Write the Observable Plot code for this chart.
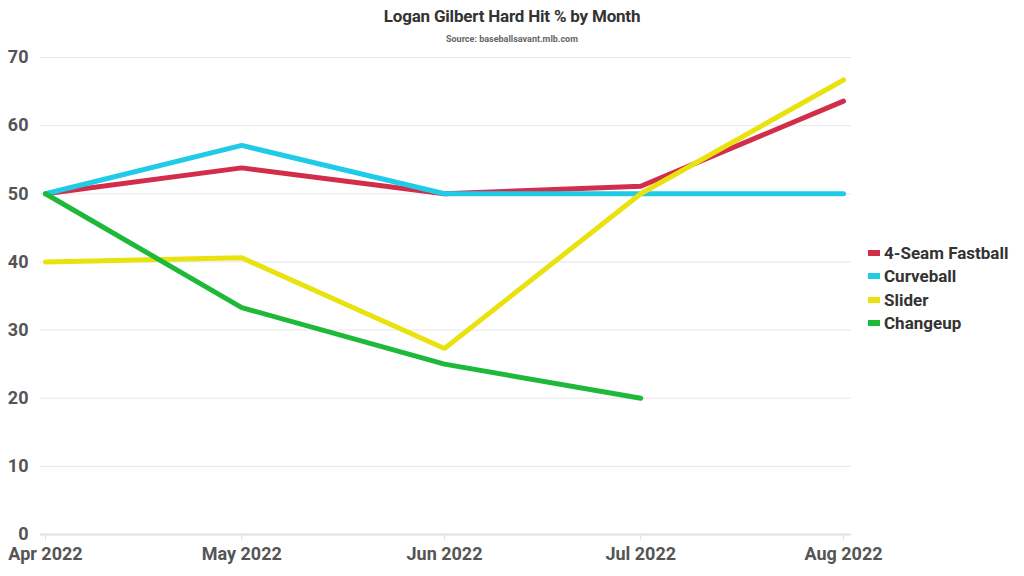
<!DOCTYPE html>
<html>
<head>
<meta charset="utf-8">
<script src="https://cdn.jsdelivr.net/npm/d3@7"></script>
<script src="https://cdn.jsdelivr.net/npm/@observablehq/plot@0.6"></script>
<style>
  body { margin: 0; background: #fff; font-family: Roboto, "Noto Sans", sans-serif; }
  #wrap { position: relative; width: 1024px; height: 576px; }
  #title { position: absolute; left: 0; top: 6px; width: 1024px; text-align: center; font-weight: 700; font-size: 17px; color: #333; letter-spacing: -0.2px; }
  #sub { position: absolute; left: 0; top: 34px; width: 1024px; text-align: center; font-weight: 700; font-size: 9px; color: #666; }
  #legend { position: absolute; left: 868px; top: 241px; font-weight: 700; font-size: 17px; color: #333; }
  #legend .item { display: flex; align-items: center; height: 23.5px; }
  #legend .sw { width: 12px; height: 6px; margin-right: 4px; }
  #chart { position: absolute; left: 0; top: 0; }
</style>
</head>
<body>
<div id="wrap">
  <div id="chart"></div>
  <div id="title">Logan Gilbert Hard Hit % by Month</div>
  <div id="sub">Source: baseballsavant.mlb.com</div>
  <div id="legend"></div>
</div>
<script>
const months = ["2022-04-01", "2022-05-01", "2022-06-01", "2022-07-01", "2022-08-01"];
const series = ["4-Seam Fastball", "Curveball", "Slider", "Changeup"];
const colors = ["#d22d4a", "#1fcbe6", "#e9e20f", "#1fb93a"];
const fastball = [50, 53.8, 50, 51.1, 63.6];
const curveball = [50, 57.1, 50, 50, 50];
const slider = [40, 40.6, 27.3, 50, 66.7];
const changeup = [50, 33.3, 25, 20, null];
const yTicks = [0, 10, 20, 30, 40, 50, 60, 70];

const valuesBySeries = [fastball, curveball, slider, changeup];
const data = [];
series.forEach((s, i) => {
  valuesBySeries[i].forEach((v, j) => {
    if (v != null) data.push({ series: s, date: new Date(months[j] + "T00:00:00"), value: v });
  });
});
const monthDates = months.map(m => new Date(m + "T00:00:00"));
const fmt = d3.timeFormat("%b %Y");

const chart = Plot.plot({
  width: 1024,
  height: 576,
  marginLeft: 45,
  marginRight: 181,
  marginTop: 57,
  marginBottom: 42,
  style: { fontFamily: "Roboto, sans-serif", fontWeight: 700, fontSize: "18px", color: "#555", background: "transparent" },
  x: { type: "time", domain: [monthDates[0], monthDates[4]], label: null },
  y: { domain: [0, 70], label: null },
  color: { domain: series, range: colors },
  marks: [
    Plot.ruleY(yTicks.filter(d => d > 0), { stroke: "#e6e6e6", strokeWidth: 1, insetLeft: -5, insetRight: -8 }),
    Plot.axisX({ ticks: monthDates, tickFormat: fmt, tickSize: 6, tickPadding: 7, stroke: "#dce3e6", fill: "#555", fontWeight: 700, fontSize: 18, label: null }),
    Plot.axisY({ ticks: yTicks, tickSize: 0, tickPadding: 17, fill: "#555", fontWeight: 700, fontSize: 18, label: null }),
    Plot.ruleY([0], { stroke: "#dce3e6", strokeWidth: 2, insetLeft: -5, insetRight: -8 }),
    Plot.line(data, { x: "date", y: "value", z: "series", stroke: "series", strokeWidth: 5, strokeLinecap: "round", strokeLinejoin: "miter", curve: "linear" })
  ]
});
document.getElementById("chart").appendChild(chart);

const legend = document.getElementById("legend");
series.forEach((s, i) => {
  const it = document.createElement("div");
  it.className = "item";
  const sw = document.createElement("span");
  sw.className = "sw";
  sw.style.background = colors[i];
  const t = document.createElement("span");
  t.textContent = s;
  it.appendChild(sw);
  it.appendChild(t);
  legend.appendChild(it);
});
</script>
</body>
</html>
